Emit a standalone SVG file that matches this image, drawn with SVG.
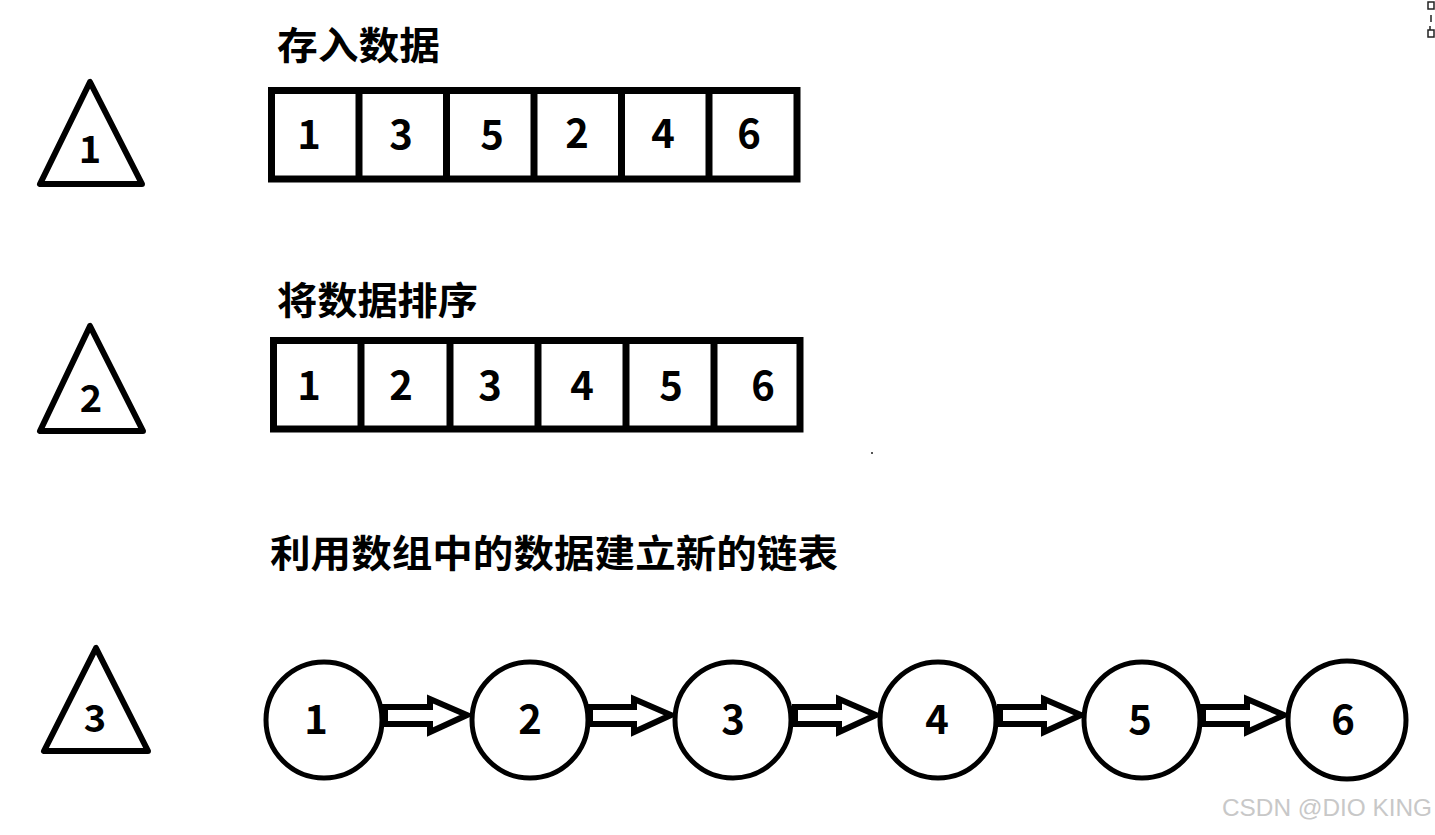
<svg xmlns="http://www.w3.org/2000/svg" width="1435" height="835" viewBox="0 0 1435 835">
<style>
.t{font-family:"Noto Sans CJK SC","Noto Sans",sans-serif;font-weight:bold;fill:#000}
.title{font-size:38px}
.d{font-size:40px;text-anchor:middle}
.tri{fill:#fff;stroke:#000;stroke-width:6;stroke-linejoin:round}
.box{fill:#fff;stroke:#000;stroke-width:7}
.div{stroke:#000;stroke-width:7}
.c{fill:#fff;stroke:#000;stroke-width:5}
.ar{fill:#fff;stroke:#000;stroke-width:6;stroke-linejoin:miter}
.wm{font-family:"Liberation Sans",Arial,sans-serif;font-size:24px;fill:#c8c8c8}
</style>
<rect width="1435" height="835" fill="#fff"/>
<g id="icon" fill="none" stroke="#222" stroke-width="1.5">
<rect x="1428" y="2" width="6" height="7"/>
<line x1="1431" y1="15" x2="1431" y2="22"/>
<rect x="1428" y="30" width="6" height="7"/>
<line x1="1430" y1="26" x2="1430" y2="30"/>
</g>
<rect x="871" y="452" width="2" height="2" fill="#555"/>

<g id="step1">
<polygon class="tri" points="90,82 40,184 142,184"/>
<text class="t d" x="90" y="163" style="font-size:38px">1</text>
</g>
<g id="title1"><text class="t title" x="277" y="59" textLength="163" lengthAdjust="spacingAndGlyphs">存入数据</text></g>
<g id="array1">
<rect class="box" x="271.5" y="90.5" width="525.5" height="88.5"/>
<line class="div" x1="359" y1="90" x2="359" y2="179"/>
<line class="div" x1="446.5" y1="90" x2="446.5" y2="179"/>
<line class="div" x1="534" y1="90" x2="534" y2="179"/>
<line class="div" x1="621.5" y1="90" x2="621.5" y2="179"/>
<line class="div" x1="709" y1="90" x2="709" y2="179"/>
<text class="t d" x="309" y="149">1</text>
<text class="t d" x="401" y="149">3</text>
<text class="t d" x="492" y="149">5</text>
<text class="t d" x="577" y="148">2</text>
<text class="t d" x="663" y="148">4</text>
<text class="t d" x="749" y="148">6</text>
</g>

<g id="step2">
<polygon class="tri" points="90,326 40,431 143,431"/>
<text class="t d" x="91" y="412" style="font-size:38px">2</text>
</g>
<g id="title2"><text class="t title" x="277" y="314" textLength="201" lengthAdjust="spacingAndGlyphs">将数据排序</text></g>
<g id="array2">
<rect class="box" x="273.5" y="340.5" width="526.5" height="88.5"/>
<line class="div" x1="361" y1="340" x2="361" y2="429"/>
<line class="div" x1="450" y1="340" x2="450" y2="429"/>
<line class="div" x1="538" y1="340" x2="538" y2="429"/>
<line class="div" x1="626" y1="340" x2="626" y2="429"/>
<line class="div" x1="714" y1="340" x2="714" y2="429"/>
<text class="t d" x="309" y="400">1</text>
<text class="t d" x="401" y="400">2</text>
<text class="t d" x="490" y="400">3</text>
<text class="t d" x="582" y="400">4</text>
<text class="t d" x="671" y="400">5</text>
<text class="t d" x="763" y="400">6</text>
</g>

<g id="step3">
<polygon class="tri" points="96,648 44,751 148,751"/>
<text class="t d" x="95" y="732" style="font-size:38px">3</text>
</g>
<g id="title3"><text class="t title" x="270" y="567" textLength="568" lengthAdjust="spacingAndGlyphs">利用数组中的数据建立新的链表</text></g>

<g id="connectors">
<polygon class="ar" points="385,707 430,707 430,699 467,715 430,732 430,724 385,724"/>
<polygon class="ar" points="590,707 634,707 634,699 671,715 634,732 634,724 590,724"/>
<polygon class="ar" points="795,707 839,707 839,699 876,715 839,732 839,724 795,724"/>
<polygon class="ar" points="1000,707 1044,707 1044,699 1081,715 1044,732 1044,724 1000,724"/>
<polygon class="ar" points="1203,707 1247,707 1247,699 1284,715 1247,732 1247,724 1203,724"/>
</g>
<g id="node1"><circle class="c" cx="324" cy="720" r="58"/><text class="t d" x="316" y="734">1</text></g>
<g id="node2"><circle class="c" cx="530" cy="720" r="58"/><text class="t d" x="530" y="734">2</text></g>
<g id="node3"><circle class="c" cx="733" cy="720" r="58"/><text class="t d" x="733" y="734">3</text></g>
<g id="node4"><circle class="c" cx="938" cy="720" r="58"/><text class="t d" x="937" y="734">4</text></g>
<g id="node5"><circle class="c" cx="1142" cy="720" r="58"/><text class="t d" x="1140" y="734">5</text></g>
<g id="node6"><circle class="c" cx="1347" cy="720" r="59"/><text class="t d" x="1343" y="734">6</text></g>

<text class="wm" x="1222" y="816" textLength="210" lengthAdjust="spacingAndGlyphs">CSDN @DIO KING</text>
</svg>
